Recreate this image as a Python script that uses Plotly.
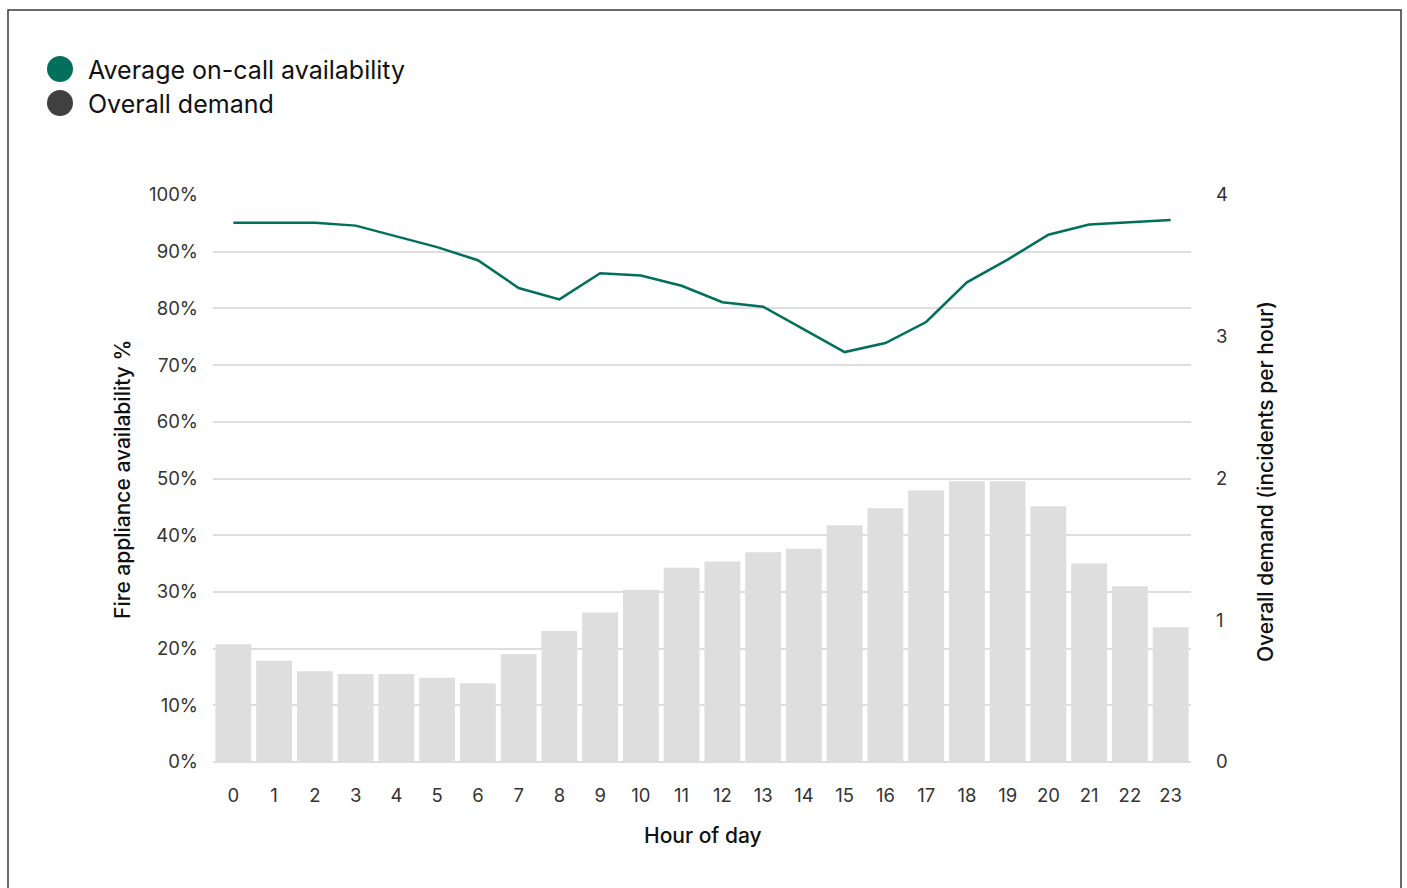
import plotly.graph_objects as go

# Hour of day (categories)
hours = [str(h) for h in range(24)]

# Average on-call availability, % of fire appliances available
availability_pct = [95.1, 95.1, 95.1, 94.6, 92.7, 90.8, 88.5, 83.6, 81.6, 86.2, 85.8, 84.0,
                    81.1, 80.3, 76.3, 72.3, 73.9, 77.6, 84.6, 88.6, 93.0, 94.8, 95.2, 95.6]

# Overall demand, incidents per hour
demand = [0.83, 0.715, 0.64, 0.62, 0.62, 0.595, 0.555, 0.76, 0.925, 1.055, 1.215, 1.37,
          1.415, 1.48, 1.505, 1.67, 1.79, 1.915, 1.98, 1.98, 1.805, 1.40, 1.24, 0.95]

# Axis ticks
pct_ticks = list(range(0, 101, 10))
pct_tick_labels = [f"{v}%" for v in pct_ticks]
demand_ticks = [0, 1, 2, 3, 4]

FONT = "Inter, 'Open Sans', sans-serif"
GREEN = "#00705c"
DARK = "#404040"
BAR = "#dedede"
GRID = "#dedede"

W, H = 1407, 888
L, R, T, B = 213, 216, 195, 126
plot_w = W - L - R
plot_h = H - T - B


def px_x(x):
    return (x - L) / plot_w


def px_y(y):
    return (H - B - y) / plot_h


fig = go.Figure()

fig.add_trace(go.Bar(
    x=hours, y=demand, yaxis="y", marker=dict(color=BAR, line=dict(width=0)),
    name="Overall demand", showlegend=False, hoverinfo="x+y",
))

fig.add_trace(go.Scatter(
    x=hours, y=availability_pct, yaxis="y2", mode="lines",
    line=dict(color=GREEN, width=2.5), name="Average on-call availability",
    showlegend=False,
))

fig.update_layout(
    width=W, height=H,
    margin=dict(l=L, r=R, t=T, b=B, pad=0),
    paper_bgcolor="white", plot_bgcolor="white",
    font=dict(family=FONT, color="#333333", size=18),
    bargap=0.12,
    xaxis=dict(
        type="category", range=[-0.5, 23.5], showgrid=False, zeroline=False,
        showline=False, ticks="", ticklabelstandoff=20,
        tickfont=dict(size=18.5, color="#333333"),
    ),
    yaxis=dict(
        side="right", range=[0, 4], tickvals=demand_ticks,
        showgrid=False, zeroline=False, showline=False, ticks="",
        ticklabelstandoff=24, tickfont=dict(size=18.5, color="#333333"),
    ),
    yaxis2=dict(
        side="left", overlaying="y", range=[0, 100],
        tickvals=pct_ticks, ticktext=pct_tick_labels,
        showgrid=True, gridcolor=GRID, gridwidth=1.5,
        zeroline=True, zerolinecolor=GRID, zerolinewidth=1.5,
        showline=False, ticks="", ticklabelstandoff=14,
        tickfont=dict(size=18.5, color="#333333"),
    ),
)

# Axis titles
TITLE_FONT = dict(size=21, color="#111111", weight=500)
fig.add_annotation(
    x=px_x(122), y=px_y(480), xref="paper", yref="paper",
    text="Fire appliance availability %", textangle=-90, showarrow=False,
    font=TITLE_FONT, xanchor="center", yanchor="middle",
)
fig.add_annotation(
    x=px_x(1265), y=px_y(482), xref="paper", yref="paper",
    text="Overall demand (incidents per hour)", textangle=-90, showarrow=False,
    font=TITLE_FONT, xanchor="center", yanchor="middle",
)
fig.add_annotation(
    x=px_x(703), y=px_y(836), xref="paper", yref="paper",
    text="Hour of day", showarrow=False,
    font=TITLE_FONT, xanchor="center", yanchor="middle",
)

# Legend: coloured dots with labels
legend_items = [("Average on-call availability", GREEN, 69), ("Overall demand", DARK, 103)]
for label, color, cy in legend_items:
    r = 13
    fig.add_shape(
        type="circle", xref="paper", yref="paper",
        x0=px_x(60 - r), x1=px_x(60 + r), y0=px_y(cy + r), y1=px_y(cy - r),
        fillcolor=color, line=dict(width=0),
    )
    fig.add_annotation(
        x=px_x(86), y=px_y(cy + 1), xref="paper", yref="paper",
        text=label, showarrow=False, xanchor="left", yanchor="middle",
        font=dict(size=25, color="#111111"),
    )

# Outer frame
fig.add_shape(
    type="rect", xref="paper", yref="paper",
    x0=px_x(8), x1=px_x(1401), y0=px_y(900), y1=px_y(10),
    line=dict(color="#3a3a3a", width=1.5), fillcolor="rgba(0,0,0,0)", layer="below",
)

fig.write_html("out.html")
